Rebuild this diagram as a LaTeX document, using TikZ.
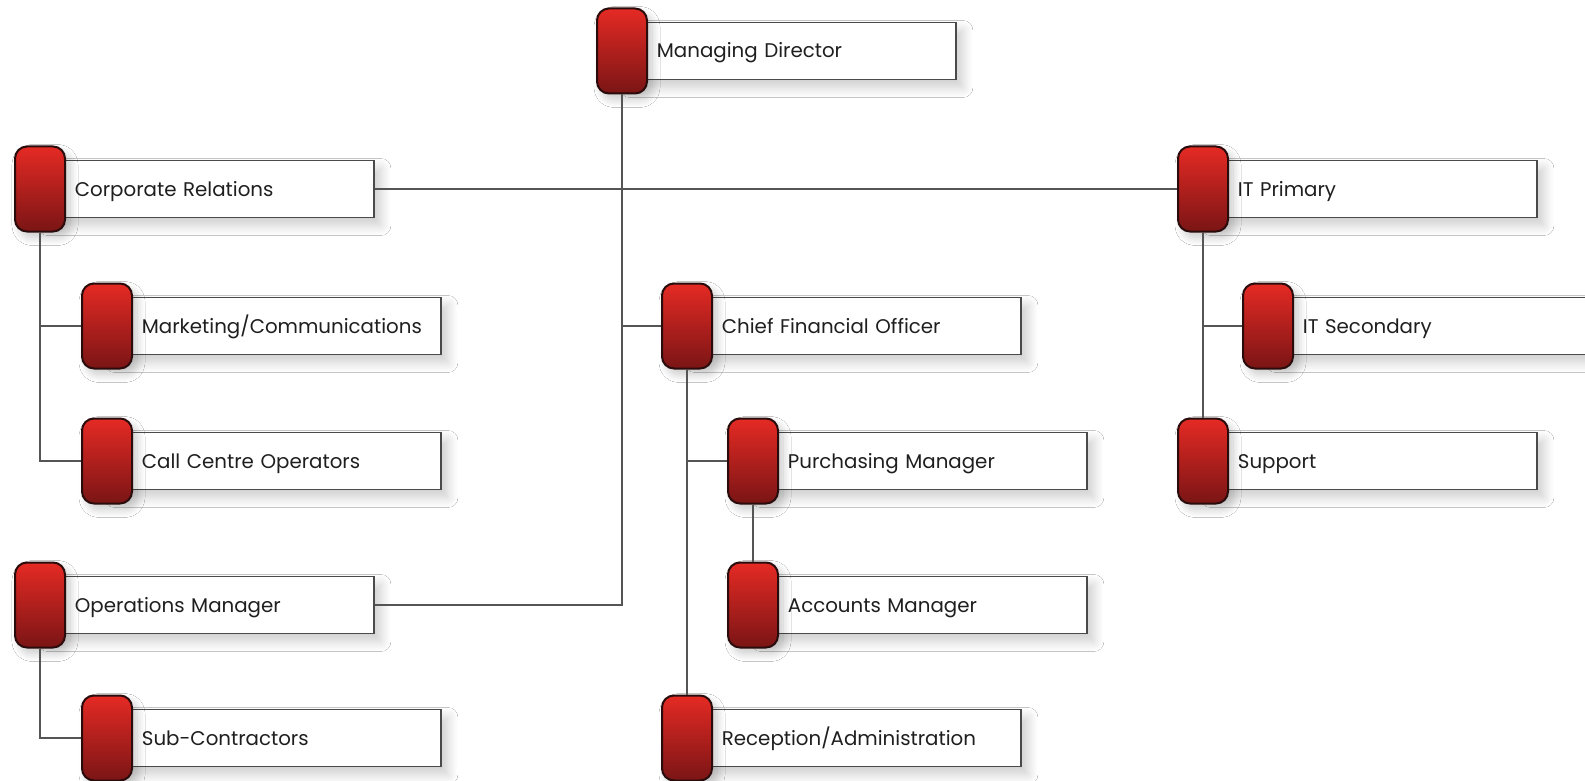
\documentclass[tikz,border=0pt]{standalone}
\usepackage{fontspec}
\setmainfont{Poppins}
\usetikzlibrary{shadows.blur,calc}
\definecolor{pilltop}{HTML}{E52A24}
\definecolor{pillbot}{HTML}{7A1515}
\definecolor{pillline}{HTML}{2A0C0C}
\definecolor{boxline}{HTML}{4A4A4A}
\definecolor{wire}{HTML}{555555}
\tikzset{
  pill/.style={rectangle, rounded corners=6pt, minimum width=25pt, minimum height=42.5pt,
    inner sep=0pt, top color=pilltop, bottom color=pillbot, draw=pillline, line width=1pt,
    blur shadow={shadow xshift=2.5pt, shadow yshift=-3pt, shadow blur radius=4pt, shadow blur steps=14, shadow opacity=22}},
  rolebox/.style={rectangle, minimum width=166.5pt, minimum height=28.5pt, text width=166.5pt,
    text height=8.6pt, text depth=1.6pt,
    inner xsep=0pt, inner ysep=0pt, align=left, anchor=west, fill=white, draw=boxline, line width=0.9pt,
    font=\fontsize{9.9pt}{11pt}\selectfont, text=black!88,
    execute at begin node={\hspace*{17pt}},
    blur shadow={shadow xshift=3.5pt, shadow yshift=-4pt, shadow blur radius=5pt, shadow blur steps=14, shadow opacity=20}},
  wireline/.style={draw=wire, line width=1pt}
}
\begin{document}
\begin{tikzpicture}[x=0.5pt,y=-0.5pt]
\useasboundingbox[fill=white] (0,0) rectangle (1585,781);
% boxes (text part), west edge at pill centre
\node[rolebox] (md)    at (622,51)  {Managing Director};
\node[rolebox] (corp)  at (40,189)  {Corporate Relations};
\node[rolebox] (itp)   at (1203,189) {IT Primary};
\node[rolebox] (mkt)   at (107,326) {Marketing/Communications};
\node[rolebox] (cfo)   at (687,326) {Chief Financial Officer};
\node[rolebox] (its)   at (1268,326) {IT Secondary};
\node[rolebox] (call)  at (107,461) {Call Centre Operators};
\node[rolebox] (purch) at (753,461) {Purchasing Manager};
\node[rolebox] (sup)   at (1203,461) {Support};
\node[rolebox] (ops)   at (40,605)  {Operations Manager};
\node[rolebox] (acct)  at (753,605) {Accounts Manager};
\node[rolebox] (sub)   at (107,738) {Sub-Contractors};
\node[rolebox] (recep) at (687,738) {Reception/Administration};
% pills
\node[pill] (mdp)    at (622,51) {};
\node[pill] (corpp)  at (40,189) {};
\node[pill] (itpp)   at (1203,189) {};
\node[pill] (mktp)   at (107,326) {};
\node[pill] (cfop)   at (687,326) {};
\node[pill] (itsp)   at (1268,326) {};
\node[pill] (callp)  at (107,461) {};
\node[pill] (purchp) at (753,461) {};
\node[pill] (supp)   at (1203,461) {};
\node[pill] (opsp)   at (40,605) {};
\node[pill] (acctp)  at (753,605) {};
\node[pill] (subp)   at (107,738) {};
\node[pill] (recepp) at (687,738) {};
% connectors
\draw[wireline] (mdp.south) |- (ops.east);
\draw[wireline] (corp.east) -- (itpp.west);
\draw[wireline] (cfop.west) -- (cfop.west -| mdp.south);
\draw[wireline] (corpp.south) |- (callp.west);
\draw[wireline] (mktp.west) -- (mktp.west -| corpp.south);
\draw[wireline] (itpp.south) -- (supp.north);
\draw[wireline] (itsp.west) -- (itsp.west -| itpp.south);
\draw[wireline] (cfop.south) -- (recepp.north);
\draw[wireline] (purchp.west) -- (purchp.west -| cfop.south);
\draw[wireline] (purchp.south) -- (acctp.north);
\draw[wireline] (opsp.south) |- (subp.west);
\end{tikzpicture}
\end{document}
